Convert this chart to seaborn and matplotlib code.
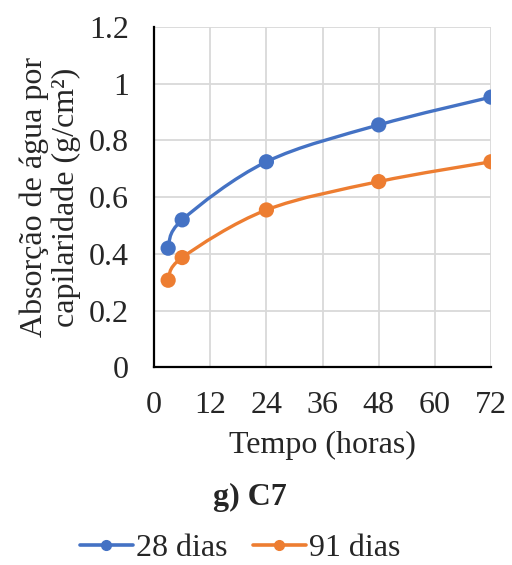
import numpy as np
import pandas as pd
import matplotlib
matplotlib.use("Agg")
import matplotlib.pyplot as plt
import seaborn as sns
from matplotlib.path import Path
from matplotlib.patches import PathPatch
from matplotlib.lines import Line2D

# data
tempo = [3, 6, 24, 48, 72]
dias28 = [0.42, 0.52, 0.725, 0.855, 0.953]
dias91 = [0.307, 0.387, 0.555, 0.655, 0.725]
series = ["28 dias", "91 dias"]
cores = ["#4472C4", "#ED7D31"]

df = pd.DataFrame({
    "tempo": tempo * 2,
    "valor": dias28 + dias91,
    "serie": [series[0]] * len(tempo) + [series[1]] * len(tempo),
})

sns.set_style("white")
plt.rcParams["font.family"] = ["Liberation Serif", "DejaVu Serif"]


def smooth_path(xs, ys):
    # Excel-style smoothed line: Catmull-Rom segments as cubic Bezier curves
    p = np.column_stack([xs, ys]).astype(float)
    n = len(p)
    verts = [p[0]]
    codes = [Path.MOVETO]
    for i in range(n - 1):
        p0 = p[i - 1] if i > 0 else p[i]
        p3 = p[i + 2] if i + 2 < n else p[i + 1]
        c1 = p[i] + (p[i + 1] - p0) / 6
        c2 = p[i + 1] - (p3 - p[i]) / 6
        verts += [c1, c2, p[i + 1]]
        codes += [Path.CURVE4] * 3
    return Path(verts, codes)


fig = plt.figure(figsize=(5.12, 5.65), dpi=100)
ax = fig.add_axes([0.301, 0.350, 0.658, 0.602])

for s, c in zip(series, cores):
    sub = df[df["serie"] == s]
    ax.add_patch(PathPatch(smooth_path(sub["tempo"], sub["valor"]),
                           facecolor="none", edgecolor=c, lw=2.4, zorder=3))
sns.scatterplot(data=df, x="tempo", y="valor", hue="serie", palette=cores,
                s=120, linewidth=0, ax=ax, zorder=4, legend=False)

ax.set_xlim(0, 72)
ax.set_ylim(0, 1.2)
ax.set_xticks(range(0, 73, 12))
ax.set_yticks([0, 0.2, 0.4, 0.6, 0.8, 1.0, 1.2])
ax.set_yticklabels(["0", "0.2", "0.4", "0.6", "0.8", "1", "1.2"])
ax.grid(True, color="#d9d9d9", lw=1.3)
ax.set_axisbelow(True)
for side in ["top", "right"]:
    ax.spines[side].set_visible(False)
for side in ["left", "bottom"]:
    ax.spines[side].set_color("black")
    ax.spines[side].set_linewidth(1.6)
ax.tick_params(direction="in", length=7, width=1.5, color="black",
               labelsize=23)
ax.tick_params(axis="x", pad=17)
ax.tick_params(axis="y", pad=18)
ax.set_xlabel("Tempo (horas)", fontsize=23, labelpad=8)
ax.set_ylabel("Absorção de água por\ncapilaridade (g/cm²)", fontsize=23,
              labelpad=6, linespacing=1.1)

fig.text(0.488, 0.106, "g) C7", ha="center", fontsize=23, fontweight="bold")

handles = [Line2D([], [], color=c, lw=2.6, marker="o", markersize=7)
           for c in cores]
fig.legend(handles, series, loc="center", bbox_to_anchor=(0.469, 0.03),
           ncol=2, frameon=False, fontsize=23, handlelength=1.65,
           handletextpad=0.1, columnspacing=0.8)

fig.savefig("out.png", dpi=100)
